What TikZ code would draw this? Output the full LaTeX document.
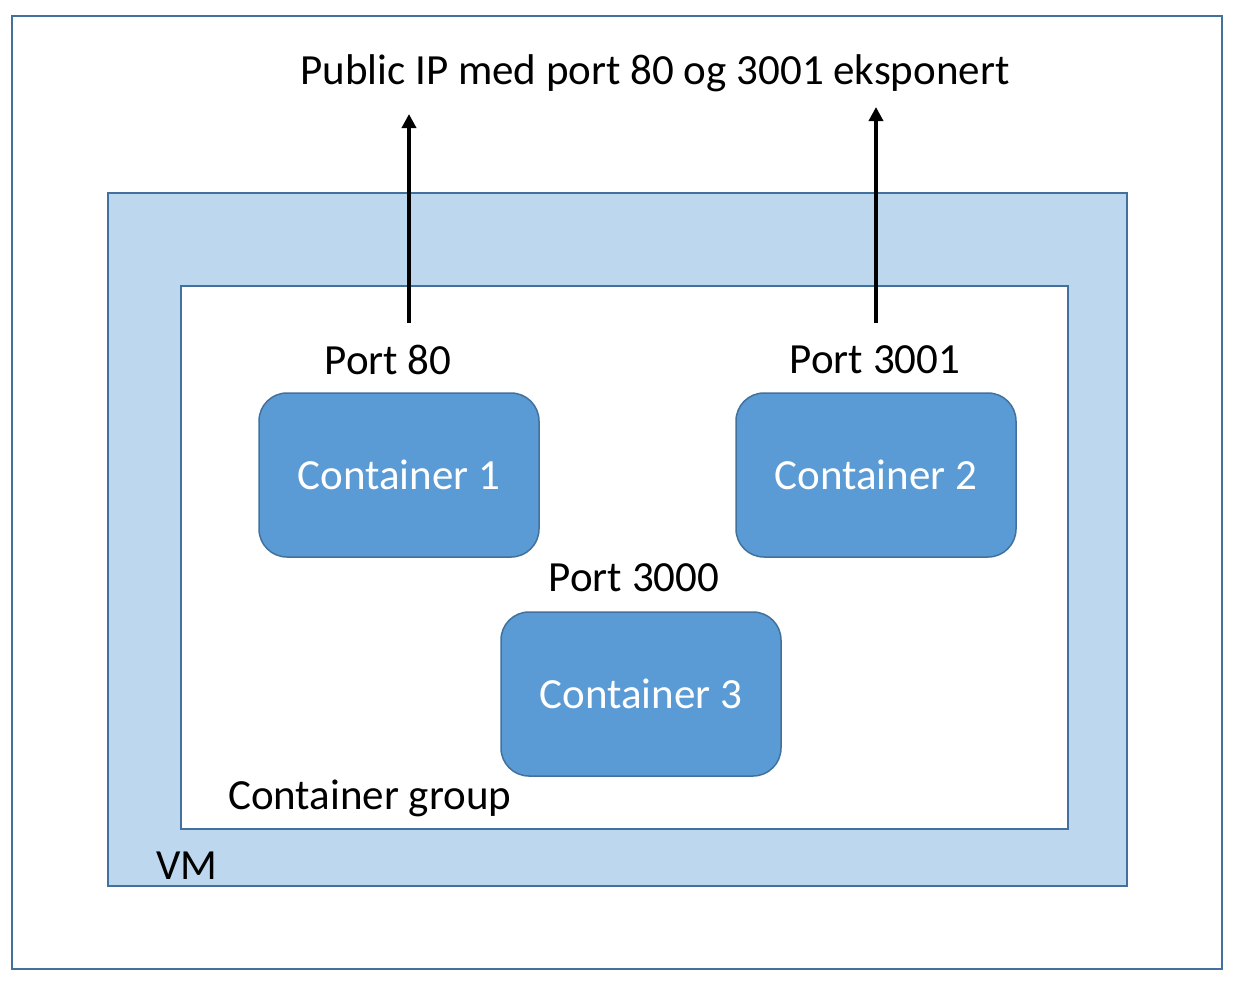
\documentclass[tikz,border=0pt]{standalone}
\usepackage{fontspec}
\setmainfont{Carlito}
\usetikzlibrary{arrows.meta}
\definecolor{edgeblue}{HTML}{41719C}
\definecolor{vmfill}{HTML}{BDD7EE}
\definecolor{boxfill}{HTML}{5B9BD5}
\begin{document}
\begin{tikzpicture}[x=1pt,y=-1pt,
  frame/.style={draw=edgeblue,line width=2pt},
  container/.style={draw=edgeblue,line width=1.5pt,fill=boxfill,rounded corners=28pt,
    minimum width=280pt,minimum height=164pt,text=white,font=\fontsize{43}{50}\selectfont,inner sep=0pt},
  lbl/.style={font=\fontsize{43}{50}\selectfont,inner sep=0pt},
  uparrow/.style={line width=3.5pt,-{Triangle[length=14pt,width=14pt]}}]
\useasboundingbox (0,0) rectangle (1245,989);
\draw[frame] (12,16) rectangle (1222,969);
\draw[frame,fill=vmfill,line width=2.5pt] (108,193) rectangle (1127,886);
\draw[frame,fill=white] (181,286) rectangle (1068,829);
\node[container] (c1) at (399,475) {Container 1};
\node[container] (c2) at (876,475) {Container 2};
\node[container] (c3) at (641,694) {Container 3};
\node[lbl] (pub) at (655,73) {Public IP med port 80 og 3001 eksponert};
\node[lbl] (p80) at (388,360) {Port 80};
\node[lbl] (p3001) at (875,360) {Port 3001};
\node[lbl] (p3000) at (634,578) {Port 3000};
\node[lbl,anchor=west] (cg) at (228,798) {Container group};
\node[lbl,anchor=west] (vm) at (156,866) {VM};
\coordinate (a1s) at (409,323);
\coordinate (a1e) at (409,114);
\coordinate (a2s) at (876,323);
\coordinate (a2e) at (876,107);
\draw[uparrow] (a1s) -- (a1e);
\draw[uparrow] (a2s) -- (a2e);
\end{tikzpicture}
\end{document}
